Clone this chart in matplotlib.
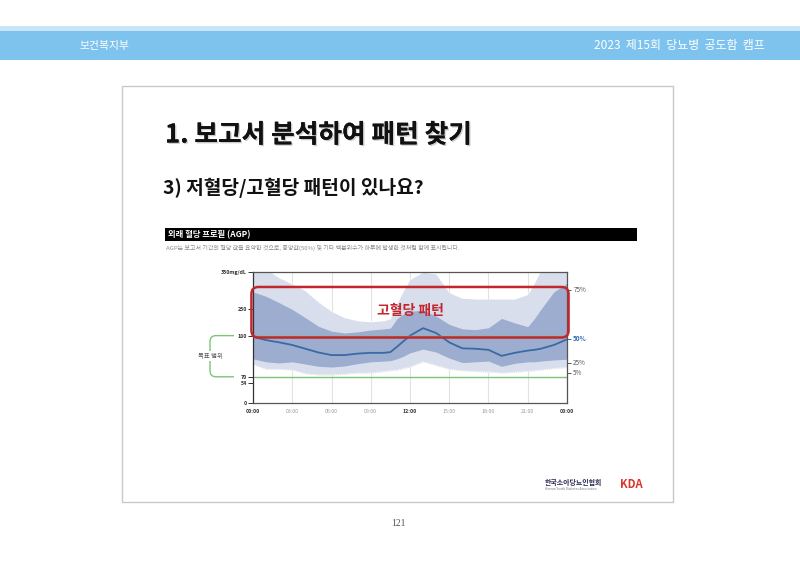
import matplotlib

matplotlib.use("Agg")
import matplotlib.patheffects as pe
import matplotlib.pyplot as plt
from matplotlib.markers import TICKRIGHT
from matplotlib.patches import FancyBboxPatch, Rectangle

plt.rcParams["font.family"] = ["Noto Sans CJK KR", "DejaVu Sans"]

# --- données (mg/dL, par heure de la journée) ---
hours = [0, 1, 2, 3, 4, 5, 6, 7, 8, 9, 10, 10.5, 11, 11.5, 12, 13, 14, 15,
         16, 17, 18, 19, 20, 21, 21.5, 22, 23, 24]
p95 = [375, 358, 335, 318, 300, 270, 245, 228, 220, 217, 220, 225, 265, 300,
       330, 350, 345, 295, 280, 278, 278, 278, 278, 290, 320, 355, 380, 380]
p75 = [297, 285, 268, 250, 228, 205, 192, 187, 190, 195, 198, 200, 225, 238,
       245, 248, 232, 210, 198, 196, 201, 226, 214, 204, 225, 250, 297, 320]
p50 = [177, 168, 162, 155, 145, 135, 128, 128, 132, 134, 134, 136, 150, 165,
       180, 200, 187, 162, 146, 145, 142, 126, 134, 140, 142, 145, 155, 170]
p25 = [118, 110, 107, 110, 104, 98, 96, 99, 105, 110, 112, 113, 118, 125,
       134, 144, 136, 120, 108, 110, 112, 98, 106, 110, 110, 112, 115, 117]
p5 = [103, 90, 90, 88, 78, 75, 75, 77, 80, 80, 84, 86, 88, 92,
      96, 110, 100, 90, 86, 84, 83, 80, 82, 85, 86, 88, 92, 95]

y_ticks = [0, 54, 70, 180, 250, 350]
y_tick_labels = ["0", "54", "70", "180", "250", "350mg/dL"]
x_ticks = [0, 3, 6, 9, 12, 15, 18, 21, 24]
x_tick_labels = ["00:00", "03:00", "06:00", "09:00", "12:00", "15:00",
                 "18:00", "21:00", "00:00"]
x_major = [0, 12, 24]
target_range = (70, 180)
pattern_range = (175, 310)
pct_labels = ["75%", "50%", "25%", "5%"]
pct_label_vals = [302, 171, 107, 80]

W, H = 800, 566
LIGHT = "#D9DEEC"
MEDIUM = "#9CADD0"
MEDIAN = "#3A6AA3"
GREEN = "#7CC576"
RED = "#C1272D"

fig = plt.figure(figsize=(W / 100, H / 100), dpi=100)
fig.patch.set_facecolor("white")

# graphique AGP
ax = fig.add_axes((253 / W, 1 - 403 / H, 314 / W, 131 / H), zorder=1)
ax.set_xlim(0, 24)
ax.set_ylim(0, 350)
ax.fill_between(hours, p5, p95, color=LIGHT, lw=0)
ax.fill_between(hours, p25, p75, color=MEDIUM, lw=0)
ax.plot(hours, p95, color="white", lw=0.7, ls=(0, (1, 1)))
ax.plot(hours, p5, color="white", lw=0.7, ls=(0, (1, 1)))
ax.plot(hours, p50, color=MEDIAN, lw=1.3)
for v in target_range:
    ax.axhline(v, color=GREEN, lw=1.0)

ax.set_xticks(x_ticks, x_tick_labels)
ax.set_yticks(y_ticks, y_tick_labels, fontweight="bold")
ax.tick_params(axis="x", length=0, pad=4, labelsize=3.8)
ax.tick_params(axis="y", length=3.5, width=0.7, pad=1, labelsize=3.8,
               colors="#333333")
for t, lab in zip(x_ticks, ax.get_xticklabels()):
    if t in x_major:
        lab.set_color("#333333")
        lab.set_fontweight("bold")
    else:
        lab.set_color("#9A9A9A")
ax.grid(axis="x", color="#E2E2E2", lw=0.8)
ax.set_axisbelow(True)
for s in ax.spines.values():
    s.set_color("#555555")
    s.set_linewidth(0.9)
ax.spines["left"].set_color("#333333")

for lab, v in zip(pct_labels, pct_label_vals):
    is_mid = lab == "50%"
    col = "#2F6DB0" if is_mid else "#555555"
    ax.plot([24], [v], marker=TICKRIGHT, ms=3, mew=0.7, color=col, clip_on=False)
    ax.annotate(lab, xy=(24, v), xytext=(4.5, 0), textcoords="offset points",
                va="center", ha="left", fontsize=4.6, color=col,
                fontweight="bold" if is_mid else "normal")

ax.text(12, 246, "고혈당 패턴", color=RED, fontsize=10, fontweight="bold",
        ha="center", va="center")

# calque en pixels pour la mise en page de la diapositive
over = fig.add_axes((0, 0, 1, 1), zorder=2)
over.set_xlim(0, W)
over.set_ylim(H, 0)
over.set_axis_off()
to_px = ax.transData + over.transData.inverted()

# bandeau d'en-tête
over.add_patch(Rectangle((0, 26), W, 5, color="#C8E6F8", lw=0))
over.add_patch(Rectangle((0, 31), W, 29, color="#7DC3EE", lw=0))
over.text(80, 45.5, "보건복지부", color="white", fontsize=7.8, va="center")
over.text(765, 45.5, "2023  제15회  당뇨병  공도함  캠프", color="white",
          fontsize=8.6, va="center", ha="right")

# cadre de la diapositive
over.add_patch(Rectangle((122, 86), 551, 416, fc="none", ec="#C9C9C9", lw=1.0))

shadow = [pe.withSimplePatchShadow(offset=(1, -1), shadow_rgbFace="#AAAAAA",
                                   alpha=0.6), pe.Normal()]
over.text(165, 135, "1. 보고서 분석하여 패턴 찾기", fontsize=18.5,
          fontweight="bold", color="#111111", va="center", path_effects=shadow)
over.text(163, 188, "3) 저혈당/고혈당 패턴이 있나요?", fontsize=13.8,
          fontweight="bold", color="#111111", va="center")

over.add_patch(Rectangle((165, 228), 472, 13, color="black", lw=0))
over.text(168, 234.5, "외래 혈당 프로필 (AGP)", color="white", fontsize=6,
          fontweight="bold", va="center")
over.text(166, 248, "AGP는 보고서 기간의 혈당 값을 요약한 것으로, 중앙값(50%) 및 "
          "기타 백분위수가 하루에 발생한 것처럼 함께 표시됩니다.",
          color="#8A8A8A", fontsize=4.3, va="center")

# crochet « plage cible »
(_, y_hi), = to_px.transform([(0, target_range[1])])
(_, y_lo), = to_px.transform([(0, target_range[0])])
clip = Rectangle((200, y_hi - 5), 34, y_lo - y_hi + 10, transform=over.transData)
bracket = FancyBboxPatch((210, y_hi), 60, y_lo - y_hi,
                         boxstyle="round,pad=0,rounding_size=6",
                         fc="none", ec=GREEN, lw=1.0)
over.add_patch(bracket)
bracket.set_clip_path(clip)
over.text(210, (y_hi + y_lo) / 2, "목표 범위", fontsize=4.6, color="#555555",
          ha="center", va="center",
          bbox=dict(fc="white", ec="none", pad=0.6))

# cadre rouge « motif hyperglycémique »
(x0, y0), (x1, y1) = to_px.transform([(-0.12, pattern_range[1]),
                                      (24.12, pattern_range[0])])
over.add_patch(FancyBboxPatch((x0, y0), x1 - x0, y1 - y0,
                              boxstyle="round,pad=0,rounding_size=7",
                              fc="none", ec=RED, lw=1.8))

# logo et numéro de page
over.text(545, 482, "한국소아당뇨인협회", fontsize=5, fontweight="bold",
          color="#2B2B55", va="center")
over.text(545, 489, "Korean Youth Diabetes Association", fontsize=2.3,
          color="#777777", va="center")
over.text(620, 484, "KDA", fontsize=8, fontweight="bold", color="#D9352B",
          va="center")
over.text(398, 524, "121", fontsize=7, color="#555555", ha="center",
          va="center", family="Liberation Serif")

fig.savefig("out.png", dpi=100, facecolor="white")
